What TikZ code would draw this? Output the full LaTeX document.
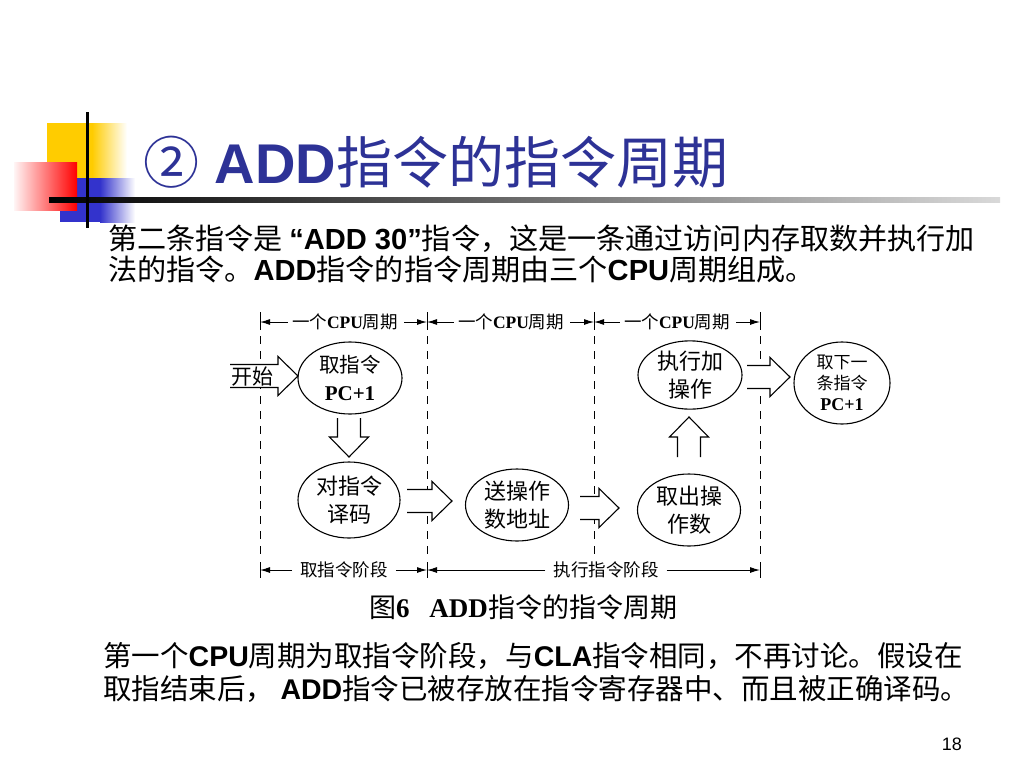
\documentclass[tikz,border=0pt]{standalone}
\usepackage{fontspec}
\setmainfont{Liberation Serif}
\newfontfamily\cjk{Noto Sans CJK SC}
\newfontfamily\arial{Liberation Sans}
\usetikzlibrary{shapes.geometric,arrows.meta}
\definecolor{titleblue}{RGB}{45,50,150}
\definecolor{decoyellow}{RGB}{255,204,0}
\definecolor{decoblue}{RGB}{51,51,204}
\newcommand\AB[1]{{\arial\bfseries #1}}
\newcommand\TB[1]{{\rmfamily\bfseries #1}}
\newcommand\fs[2]{\fontsize{#1}{#2}\selectfont}
\newcommand\RArr[3]{\draw[blk] ({#1},{#3-11.5}) -- ({#2-20},{#3-11.5}) -- ({#2-20},{#3-19.5}) -- ({#2},{#3}) -- ({#2-20},{#3+19.5}) -- ({#2-20},{#3+11.5}) -- ({#1},{#3+11.5});}
\newcommand\DArr[3]{\draw[blk] ({#1-11.5},{#2}) -- ({#1-11.5},{#3-20}) -- ({#1-19.5},{#3-20}) -- ({#1},{#3}) -- ({#1+19.5},{#3-20}) -- ({#1+11.5},{#3-20}) -- ({#1+11.5},{#2});}
\newcommand\UArr[3]{\draw[blk] ({#1-11.5},{#2}) -- ({#1-11.5},{#3+20}) -- ({#1-19.5},{#3+20}) -- ({#1},{#3}) -- ({#1+19.5},{#3+20}) -- ({#1+11.5},{#3+20}) -- ({#1+11.5},{#2});}
\begin{document}
\begin{tikzpicture}[x=1pt,y=-1pt,
  blk/.style={draw=black,fill=white,line width=1.1pt,line join=miter},
  ell/.style={draw=black,ellipse,line width=1.1pt,inner sep=0pt,align=center,font=\cjk\fs{22}{28}},
  guide/.style={line width=1pt,dash pattern=on 8pt off 7pt},
  tick/.style={line width=1pt},
  dim/.style={line width=1pt,-{Latex[length=10pt,width=6pt]}},
  lab/.style={inner sep=4pt,font=\cjk\fs{17.5}{20}},
  body/.style={anchor=base west,inner sep=0pt,font=\cjk\fs{29.1}{29}},
  bodyb/.style={anchor=base west,inner sep=0pt,font=\cjk\fs{28.5}{29}}]
\useasboundingbox (0,0) rectangle (1024,768);
\fill[white] (0,0) rectangle (1024,768);
% decoration
\fill[decoyellow] (47,123) rectangle (92,178);
\shade[left color=decoyellow,right color=white] (92,123) rectangle (127,178);
\fill[decoblue] (60,178) rectangle (100,222);
\shade[left color=decoblue,right color=white] (100,178) rectangle (135,222);
\shade[left color=red!4,right color=red] (14,162) rectangle (77,210);
\shade[left color=black,right color=black!15] (49,197.5) rectangle (1000,202.5);
\fill[black] (85.5,112) rectangle (88.5,228);
% title
\node[anchor=base west,inner sep=0pt,text=titleblue,font=\cjk\fs{56}{56}] (title) at (143,183) {②\AB{ ADD}指令的指令周期};
% body text
\node[body] (p1) at (108,249) {第二条指令是 \AB{“ADD 30”}指令，这是一条通过访问内存取数并执行加};
\node[body] (p2) at (108,280) {法的指令。\AB{ADD}指令的指令周期由三个\AB{CPU}周期组成。};
\node[bodyb] (p3) at (103,666) {第一个\AB{CPU}周期为取指令阶段，与\AB{CLA}指令相同，不再讨论。假设在};
\node[bodyb] (p4) at (103,699) {取指结束后， \AB{ADD}指令已被存放在指令寄存器中、而且被正确译码。};
\node[anchor=base east,inner sep=0pt,font=\arial\fs{18}{18}] (pg) at (962,750) {18};
% guide lines
\foreach \gx in {260,427,760} {
  \draw[tick] (\gx,312) -- (\gx,330);
  \draw[guide] (\gx,336) -- (\gx,557);
  \draw[tick] (\gx,562) -- (\gx,578);
}
\draw[tick] (594,312) -- (594,330);
\draw[guide] (594,336) -- (594,555);
% dimension labels
\coordinate (t1) at (260,322);
\coordinate (t2) at (427,322);
\coordinate (t3) at (594,322);
\coordinate (t4) at (760,322);
\node[lab] (L1) at (345,322) {一个\TB{CPU}周期};
\node[lab] (L2) at (511,322) {一个\TB{CPU}周期};
\node[lab] (L3) at (677,322) {一个\TB{CPU}周期};
\draw[dim] (L1.west) -- (t1);
\draw[dim] ([xshift=2pt]L1.east) -- (t2);
\draw[dim] (L2.west) -- (t2);
\draw[dim] ([xshift=2pt]L2.east) -- (t3);
\draw[dim] (L3.west) -- (t3);
\draw[dim] ([xshift=2pt]L3.east) -- (t4);
\coordinate (b1) at (260,570);
\coordinate (b2) at (427,570);
\coordinate (b3) at (760,570);
\node[lab] (F1) at (344,570) {取指令阶段};
\node[lab] (F2) at (606,570) {执行指令阶段};
\draw[dim] ([xshift=-4pt]F1.west) -- (b1);
\draw[dim] ([xshift=4pt]F1.east) -- (b2);
\draw[dim] ([xshift=-4pt]F2.west) -- (b2);
\draw[dim] ([xshift=4pt]F2.east) -- (b3);
% ellipses
\node[ell,minimum width=104pt,minimum height=72pt,font=\cjk\fs{20.5}{28}] (n1) at (350,378) {取指令\\\TB{\fs{21}{28}PC+1}};
\node[ell,minimum width=102pt,minimum height=76pt] (n2) at (349,500) {对指令\\译码};
\node[ell,minimum width=103pt,minimum height=72pt] (n3) at (517,505) {送操作\\数地址};
\node[ell,minimum width=103pt,minimum height=72pt] (n4) at (689,510) {取出操\\作数};
\node[ell,minimum width=104pt,minimum height=66pt] (n5) at (690,375) {执行加\\操作};
\node[ell,minimum width=96pt,minimum height=82pt,font=\cjk\fs{17}{21}] (n6) at (842,383) {取下一\\条指令\\\TB{\fs{18}{21}PC+1}};
% block arrows
\RArr{230}{298}{376}
\node[inner sep=0pt,font=\cjk\fs{21}{21}] (start) at (252,377) {开始};
\DArr{349}{418}{457}
\RArr{407}{452}{501}
\RArr{580}{619}{508}
\UArr{689}{457}{417}
\RArr{747}{790}{377}
% caption
\node[inner sep=0pt,font=\cjk\fs{27}{27}] (cap) at (523,607) {图\TB{6}\hspace{20pt}\TB{ADD}指令的指令周期};
\end{tikzpicture}
\end{document}
